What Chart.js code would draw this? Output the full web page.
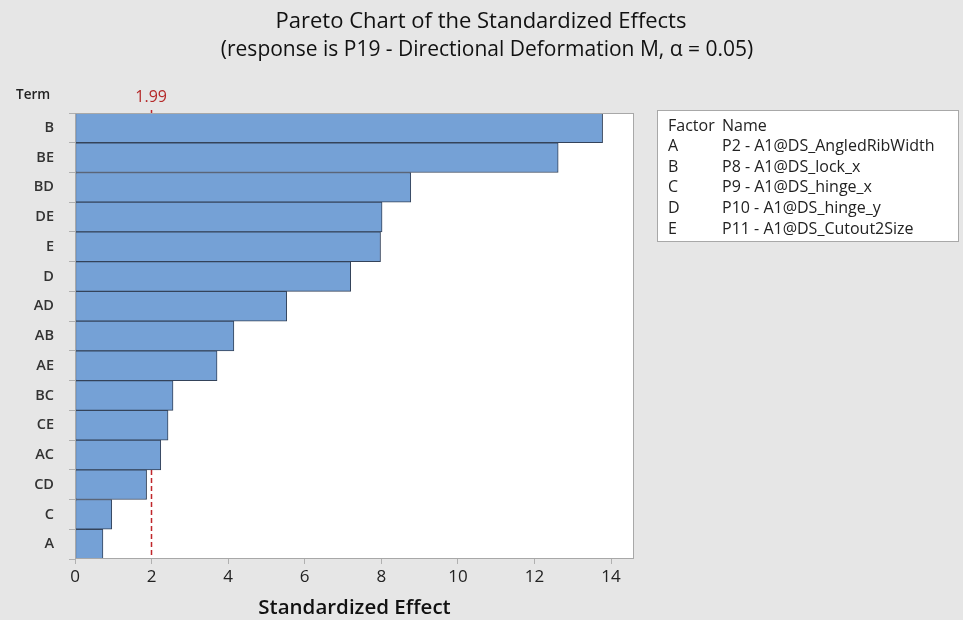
<!DOCTYPE html>
<html>
<head>
<meta charset="utf-8">
<script src="https://cdn.jsdelivr.net/npm/chart.js@4.4.1/dist/chart.umd.min.js"></script>
<style>
  html, body { margin: 0; padding: 0; background: #e6e6e6; }
  #wrap { width: 963px; height: 620px; }
</style>
</head>
<body>
<div id="wrap"><canvas id="pareto" width="963" height="620"></canvas></div>
<script>
// terms ordered as in the chart (largest effect on top)
var terms = ["B", "BE", "BD", "DE", "E", "D", "AD", "AB", "AE", "BC", "CE", "AC", "CD", "C", "A"];
var effects = [13.78, 12.62, 8.77, 8.02, 7.98, 7.20, 5.53, 4.15, 3.71, 2.56, 2.43, 2.24, 1.87, 0.96, 0.73];
var xTicks = [0, 2, 4, 6, 8, 10, 12, 14];
var critical = 1.99;

// factor table on the right
var factorLetters = ["A", "B", "C", "D", "E"];
var factorNames = [
    "P2 - A1@DS_AngledRibWidth",
    "P8 - A1@DS_lock_x",
    "P9 - A1@DS_hinge_x",
    "P10 - A1@DS_hinge_y",
    "P11 - A1@DS_Cutout2Size"
];

var titleText = "Pareto Chart of the Standardized Effects";
var subtitleText = "(response is P19 - Directional Deformation M, \u03b1 = 0.05)";

var FONT = "'Open Sans', 'Noto Sans', sans-serif";

// fondo, titulos, marco, linea de referencia y tabla de factores
var decor = {
    id: "decor",
    beforeDraw: function (chart) {
        var c = chart.ctx, a = chart.chartArea;
        c.save();
        c.fillStyle = "#e6e6e6";
        c.fillRect(0, 0, chart.width, chart.height);
        c.fillStyle = "#ffffff";
        c.fillRect(a.left, a.top, a.right - a.left, a.bottom - a.top);

        // titulos
        c.fillStyle = "#111";
        c.textAlign = "center";
        c.textBaseline = "middle";
        c.font = "22px " + FONT;
        c.fillText(titleText, 481, 22);
        c.font = "21px " + FONT;
        c.fillText(subtitleText, 487, 50);
        c.restore();
    },
    beforeDatasetsDraw: function (chart) {
        var c = chart.ctx, a = chart.chartArea;
        var x = Math.round(chart.scales.x.getPixelForValue(critical)) + 0.5;
        c.save();
        c.strokeStyle = "#c0262b";
        c.lineWidth = 1.5;
        c.setLineDash([5, 3]);
        c.beginPath();
        c.moveTo(x, a.top - 3);
        c.lineTo(x, a.bottom);
        c.stroke();
        c.restore();
    },
    afterDraw: function (chart) {
        var c = chart.ctx, a = chart.chartArea;
        c.save();
        // marco
        c.strokeStyle = "#a8a8a8";
        c.lineWidth = 1;
        c.strokeRect(a.left + 0.5, a.top + 0.5, a.right - a.left - 1, a.bottom - a.top - 1);

        // etiqueta del valor critico
        var x = chart.scales.x.getPixelForValue(critical);
        c.fillStyle = "#b52a2a";
        c.font = "16px " + FONT;
        c.textAlign = "center";
        c.textBaseline = "middle";
        c.fillText(critical.toFixed(2), x, 97);

        // "Term"
        c.fillStyle = "#222";
        c.font = "600 13.5px " + FONT;
        c.textAlign = "left";
        c.fillText("Term", 16, 95);

        // tabla de factores
        var bx = 657, by = 110, bw = 301, bh = 131;
        c.fillStyle = "#ffffff";
        c.fillRect(bx, by, bw, bh);
        c.strokeStyle = "#a8a8a8";
        c.strokeRect(bx + 0.5, by + 0.5, bw, bh);
        c.fillStyle = "#222";
        c.font = "16px " + FONT;
        var rowY = 126, step = 20.6;
        c.fillText("Factor", 668, rowY);
        c.fillText("Name", 722, rowY);
        for (var i = 0; i < factorLetters.length; i++) {
            c.fillText(factorLetters[i], 668, rowY + step * (i + 1));
            c.fillText(factorNames[i], 722, rowY + step * (i + 1));
        }
        c.restore();
    }
};

var ctx = document.getElementById("pareto").getContext("2d");
var chart = new Chart(ctx, {
    type: "bar",
    data: {
        labels: terms,
        datasets: [
            {
                data: effects,
                backgroundColor: "#75a1d6",
                borderColor: "#34435a",
                borderWidth: 1,
                borderSkipped: false,
                barPercentage: 1.0,
                categoryPercentage: 1.0
            }
        ]
    },
    options: {
        indexAxis: "y",
        responsive: false,
        animation: false,
        layout: { padding: { left: 5, right: 329, top: 113, bottom: 0 } },
        plugins: {
            legend: { display: false },
            tooltip: { enabled: false },
            title: { display: false },
            subtitle: { display: false }
        },
        scales: {
            x: {
                type: "linear",
                min: 0,
                max: 14.6,
                afterBuildTicks: function (s) {
                    s.ticks = xTicks.map(function (v) { return { value: v }; });
                },
                afterFit: function (s) { s.height = 61; },
                border: { display: false },
                grid: { drawOnChartArea: false, drawTicks: true, tickLength: 5, color: "#b0b0b0" },
                ticks: { color: "#222", font: { family: FONT, size: 17 }, padding: 3 },
                title: {
                    display: true,
                    text: "Standardized Effect",
                    color: "#111",
                    font: { family: FONT, size: 20.5, weight: "600" },
                    padding: { top: 0, bottom: 0 }
                }
            },
            y: {
                afterFit: function (s) { s.width = 70; },
                border: { display: false },
                grid: { drawOnChartArea: false, drawTicks: true, tickLength: 6, color: "#b0b0b0" },
                ticks: { color: "#333", font: { family: FONT, size: 14.5, weight: "600" }, padding: 15 }
            }
        }
    },
    plugins: [decor]
});
</script>
</body>
</html>
